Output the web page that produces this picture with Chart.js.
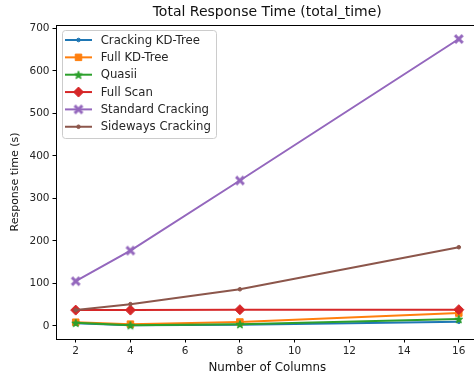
<!DOCTYPE html>
<html>
<head>
    <title>Total Response Time</title>
    <script src="https://cdn.jsdelivr.net/npm/chart.js"></script>
    <style>
        body { margin: 0; background: #fff; }
        #wrap { width: 474px; height: 378px; overflow: hidden; position: relative; }
    </style>
</head>
<body>
    <div id="wrap">
        <canvas id="rtChart" width="490" height="378"></canvas>
    </div>

    <script>
        // Data
        var columns = [2, 4, 8, 16];
        var xTicks = [2, 4, 6, 8, 10, 12, 14, 16];
        var yTicks = [0, 100, 200, 300, 400, 500, 600, 700];

        var crackingKdTree = [6, 1.5, 2.5, 9.5];
        var fullKdTree = [8.5, 4, 9, 30];
        var quasii = [7, 1.5, 4, 16];
        var fullScan = [37, 37, 38, 38];
        var standardCracking = [105, 177, 342, 675];
        var sidewaysCracking = [37, 51, 86, 185];

        // Marker images for matplotlib-like '*' and 'X'
        function starMarker(color, r) {
            var c = document.createElement("canvas");
            var s = Math.ceil(r * 2 + 3);
            c.width = s; c.height = s;
            var g = c.getContext("2d");
            g.translate(s / 2, s / 2 + 0.5);
            g.beginPath();
            for (var i = 0; i < 10; i++) {
                var rr = i % 2 === 0 ? r : r * 0.42;
                var a = -Math.PI / 2 + i * Math.PI / 5;
                g.lineTo(rr * Math.cos(a), rr * Math.sin(a));
            }
            g.closePath();
            g.fillStyle = color;
            g.strokeStyle = color;
            g.lineWidth = 1;
            g.fill();
            g.stroke();
            return c;
        }

        function xMarker(color, r) {
            var c = document.createElement("canvas");
            var s = Math.ceil(r * 2 + 3);
            c.width = s; c.height = s;
            var g = c.getContext("2d");
            g.translate(s / 2, s / 2);
            g.strokeStyle = color;
            g.lineWidth = 3;
            g.lineCap = "square";
            g.beginPath();
            g.moveTo(-r + 1.5, -r + 1.5); g.lineTo(r - 1.5, r - 1.5);
            g.moveTo(r - 1.5, -r + 1.5); g.lineTo(-r + 1.5, r - 1.5);
            g.stroke();
            return c;
        }

        function series(label, values, color, style, radius) {
            return {
                label: label,
                data: values.map(function (v, i) { return { x: columns[i], y: v }; }),
                borderColor: color,
                backgroundColor: color,
                borderWidth: 2,
                pointStyle: style,
                pointRadius: radius,
                pointBorderWidth: 1,
                pointBorderColor: color,
                pointBackgroundColor: color,
                fill: false,
                tension: 0
            };
        }

        var datasets = [
            series("Cracking KD-Tree", crackingKdTree, "#1f77b4", "circle", 1.8),
            series("Full KD-Tree", fullKdTree, "#ff7f0e", "rect", 4.6),
            series("Quasii", quasii, "#2ca02c", starMarker("#2ca02c", 4.2), 4),
            series("Full Scan", fullScan, "#d62728", "rectRot", 5),
            series("Standard Cracking", standardCracking, "#9467bd", xMarker("#9467bd", 4.3), 5),
            series("Sideways Cracking", sidewaysCracking, "#8c564b", "circle", 1.8)
        ];
        // matplotlib draws the last series on top
        datasets.forEach(function (d, i) { d.order = datasets.length - i; });

        var fontFamily = "'DejaVu Sans', sans-serif";

        // Top spine and legend box
        var framePlugin = {
            id: "frame",
            afterDatasetsDraw: function (chart) {
                var ctx = chart.ctx;
                var a = chart.chartArea;
                ctx.save();
                ctx.strokeStyle = "#000";
                ctx.lineWidth = 1;
                ctx.beginPath();
                ctx.moveTo(a.left, a.top + 0.5);
                ctx.lineTo(a.right, a.top + 0.5);
                ctx.stroke();

                // legend
                var bx = 62.5, by = 30.5, bw = 154, bh = 108;
                ctx.beginPath();
                ctx.roundRect(bx, by, bw, bh, 3);
                ctx.fillStyle = "rgba(255,255,255,0.8)";
                ctx.fill();
                ctx.strokeStyle = "#cccccc";
                ctx.stroke();

                ctx.font = "11.7px " + fontFamily;
                ctx.textBaseline = "middle";
                chart.data.datasets.forEach(function (d, i) {
                    var y = 40 + i * 17.35;
                    ctx.strokeStyle = d.borderColor;
                    ctx.lineWidth = 2;
                    ctx.beginPath();
                    ctx.moveTo(65, y);
                    ctx.lineTo(92, y);
                    ctx.stroke();
                    ctx.fillStyle = d.pointBackgroundColor;
                    ctx.strokeStyle = d.pointBorderColor;
                    ctx.lineWidth = 1;
                    Chart.helpers.drawPoint(ctx, {
                        pointStyle: d.pointStyle,
                        radius: d.pointRadius,
                        rotation: 0,
                        borderWidth: 1
                    }, 78.5, y);
                    ctx.fillStyle = "#262626";
                    ctx.fillText(d.label, 100.7, y + 0.5);
                });
                ctx.restore();
            }
        };

        var chart = new Chart(document.getElementById("rtChart"), {
            type: "line",
            data: { datasets: datasets },
            plugins: [framePlugin],
            options: {
                responsive: false,
                animation: false,
                layout: { padding: { left: 0, right: 11.5, top: 0, bottom: 0 } },
                plugins: {
                    legend: { display: false },
                    tooltip: { enabled: false },
                    title: {
                        display: true,
                        text: "Total Response Time (total_time)",
                        fullSize: false,
                        color: "#111",
                        font: { family: fontFamily, size: 14, weight: "normal" },
                        padding: { top: 4, bottom: 4.2 }
                    }
                },
                scales: {
                    x: {
                        type: "linear",
                        min: 1.28,
                        max: 16.72,
                        afterBuildTicks: function (scale) {
                            scale.ticks = xTicks.map(function (v) { return { value: v }; });
                        },
                        afterFit: function (scale) { scale.height = 39; },
                        ticks: {
                            color: "#262626",
                            font: { family: fontFamily, size: 10.5 },
                            padding: 2,
                            maxRotation: 0
                        },
                        grid: {
                            drawOnChartArea: false,
                            color: "#000",
                            tickLength: 3.5
                        },
                        border: { display: true, color: "#000", width: 1 },
                        title: {
                            display: true,
                            text: "Number of Columns",
                            color: "#111",
                            font: { family: fontFamily, size: 11.8 },
                            padding: { top: 0, bottom: 3 }
                        }
                    },
                    y: {
                        type: "linear",
                        min: -31,
                        max: 708,
                        afterBuildTicks: function (scale) {
                            scale.ticks = yTicks.map(function (v) { return { value: v }; });
                        },
                        afterFit: function (scale) { scale.width = 56; },
                        ticks: {
                            color: "#262626",
                            font: { family: fontFamily, size: 10.5 },
                            padding: 3
                        },
                        grid: {
                            drawOnChartArea: false,
                            color: "#000",
                            tickLength: 3.5
                        },
                        border: { display: true, color: "#000", width: 1 },
                        title: {
                            display: true,
                            text: "Response time (s)",
                            color: "#111",
                            font: { family: fontFamily, size: 11 },
                            padding: { top: 9, bottom: 0 }
                        }
                    }
                }
            }
        });
    </script>
</body>
</html>
